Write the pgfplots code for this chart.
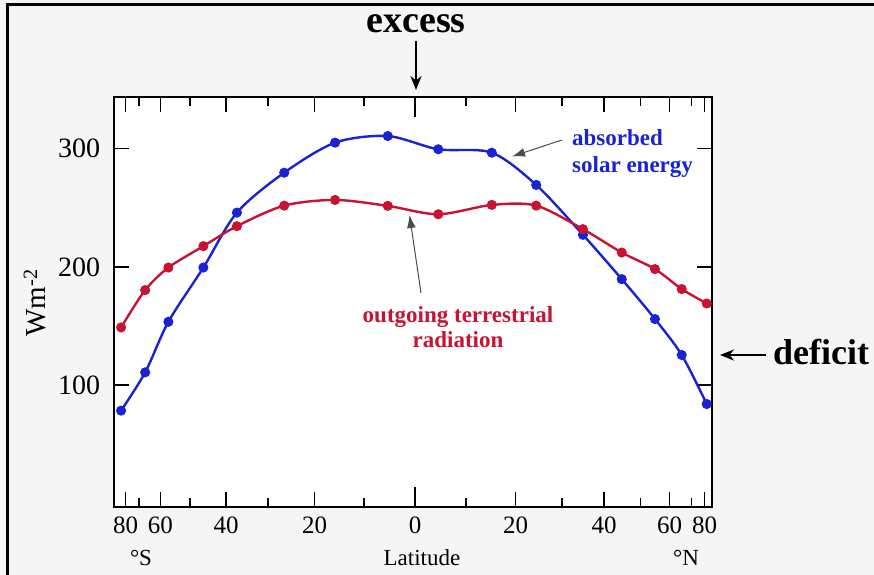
\documentclass[border=0pt]{standalone}
\usepackage{fontspec}
\setmainfont{Liberation Serif}
\usepackage{pgfplots}
\pgfplotsset{compat=1.18}
\usetikzlibrary{arrows.meta}

\definecolor{bgray}{RGB}{245,245,245}
\definecolor{solarblue}{RGB}{25,35,210}
\definecolor{irred}{RGB}{200,20,50}

% x is sin(latitude), so equal areas of the globe get equal widths
\pgfplotstableread{
s      w
-1.000 78.3
-0.918 110.7
-0.839 153.5
-0.720 199.4
-0.606 245.9
-0.445 279.7
-0.272 305.1
-0.093 310.7
0.079  299.5
0.261  296.6
0.412  269.3
0.571  227.1
0.703  189.6
0.816  155.8
0.907  125.4
0.992  83.9
}\solar

\pgfplotstableread{
s      w
-1.000 148.7
-0.918 180.3
-0.839 199.4
-0.720 217.5
-0.606 234.4
-0.445 251.8
-0.272 256.6
-0.093 251.6
0.079  244.5
0.261  252.4
0.412  251.8
0.571  231.9
0.703  212.1
0.816  198.1
0.907  181.2
0.992  169.0
}\outgoing

\begin{document}
\begin{tikzpicture}[x=1bp,y=1bp]
\path[use as bounding box] (0,0) rectangle (874,575);
\clip (0,0) rectangle (874,575);
\fill[bgray] (0,0) rectangle (874,575);
\draw[line width=3bp] (7,-5) -- (7,570) -- (880,570);

\begin{axis}[
    at={(114.3bp,68.3bp)}, anchor=south west,
    scale only axis,
    width=597.4bp, height=410bp,
    xmin=-1.023, xmax=1.009,
    ymin=-3, ymax=344,
    axis background/.style={fill=white},
    axis line style={line width=1.8bp},
    tick style={line width=1.5bp, black},
    major tick length=15bp,
    minor tick length=9bp,
    xtick={-0.9848,-0.8660,-0.6428,-0.3420,0.3420,0.6428,0.8660,0.9848},
    xticklabels={80,60,40,20,20,40,60,80},
    minor xtick={-0.9397,-0.7660,-0.5,-0.1736,0.1736,0.5,0.7660,0.9397},
    extra x ticks={0},
    extra x tick labels={0},
    extra x tick style={major tick length=20bp},
    ytick={100,200,300},
    yticklabels={100,200,300},
    xticklabel style={font=\fontsize{25bp}{25bp}\selectfont, anchor=base, yshift=-26.6bp},
    yticklabel style={font=\fontsize{28bp}{28bp}\selectfont, anchor=east, inner sep=0pt, xshift=-14bp},
    every axis plot/.append style={line width=2.4bp, smooth, tension=0.5, mark=*, mark size=3.8bp},
]
\addplot[solarblue, mark options={fill=solarblue}] table[x=s, y=w] {\solar};
\addplot[irred, mark options={fill=irred}] table[x=s, y=w] {\outgoing};
\end{axis}

% axis titles
\node[rotate=90, font=\fontsize{29bp}{29bp}\selectfont] at (35,272) {Wm\textsuperscript{-2}};
\node[anchor=base, font=\fontsize{23bp}{23bp}\selectfont] at (141,9) {°S};
\node[anchor=base, font=\fontsize{23bp}{23bp}\selectfont] at (422,9) {Latitude};
\node[anchor=base, font=\fontsize{23bp}{23bp}\selectfont] at (686,9) {°N};

% excess / deficit
\node[anchor=base, font=\fontsize{38bp}{38bp}\selectfont\bfseries] at (416,542) {excess};
\draw[line width=2.6bp, -{Stealth[length=14bp, width=11bp]}] (416,534) -- (416,485);
\node[anchor=base west, inner sep=0pt, font=\fontsize{36bp}{36bp}\selectfont\bfseries] at (773,210) {deficit};
\draw[line width=2.6bp, -{Stealth[length=14bp, width=11bp]}] (766,220) -- (720,220);

% curve labels
\node[anchor=base west, inner sep=0pt, text=solarblue, font=\fontsize{23bp}{23bp}\selectfont\bfseries] at (572,429) {absorbed};
\node[anchor=base west, inner sep=0pt, text=solarblue, font=\fontsize{23bp}{23bp}\selectfont\bfseries] at (572,402) {solar energy};
\draw[line width=1bp, black!70, -{Latex[length=13bp, width=9bp]}] (562,435) -- (512,418.5);

\node[anchor=base, inner sep=0pt, text=irred, font=\fontsize{23bp}{23bp}\selectfont\bfseries] at (458,252) {outgoing terrestrial};
\node[anchor=base, inner sep=0pt, text=irred, font=\fontsize{23bp}{23bp}\selectfont\bfseries] at (458,227) {radiation};
\draw[line width=1bp, black!70, -{Latex[length=13bp, width=9bp]}] (421,282) -- (409.5,360);
\end{tikzpicture}
\end{document}
